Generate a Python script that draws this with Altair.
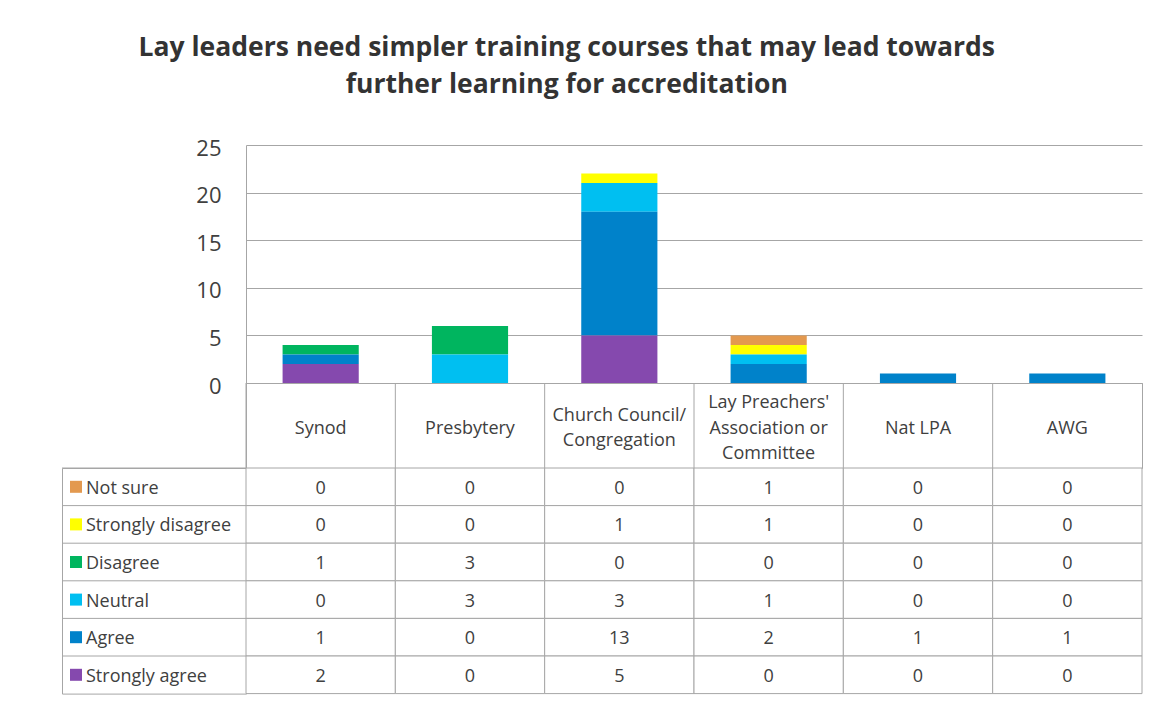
import altair as alt
import pandas as pd

# ---- data ----
categories = ["Synod", "Presbytery", "Church Council/\nCongregation",
              "Lay Preachers'\nAssociation or\nCommittee", "Nat LPA", "AWG"]
series = ["Not sure", "Strongly disagree", "Disagree", "Neutral", "Agree", "Strongly agree"]
not_sure = [0, 0, 0, 1, 0, 0]
strongly_disagree = [0, 0, 1, 1, 0, 0]
disagree = [1, 3, 0, 0, 0, 0]
neutral = [0, 3, 3, 1, 0, 0]
agree = [1, 0, 13, 2, 1, 1]
strongly_agree = [2, 0, 5, 0, 0, 0]
colors = ["#E3994F", "#FFFF00", "#00B55F", "#00BFF1", "#0082CA", "#8549AE"]
y_ticks = [0, 5, 10, 15, 20, 25]
title_lines = ["Lay leaders need simpler training courses that may lead towards",
               "further learning for accreditation"]

series_values = [not_sure, strongly_disagree, disagree, neutral, agree, strongly_agree]
rows = []
for s_i, s in enumerate(series):
    for c_i, c in enumerate(categories):
        rows.append({"cat": c, "series": s, "value": series_values[s_i][c_i],
                     "stack": len(series) - 1 - s_i})
df = pd.DataFrame(rows)
cat_df = pd.DataFrame({"cat": categories})
ser_df = pd.DataFrame({"series": series})
blank_df = pd.DataFrame({"t": [""]})

LINE_H = 25.5
hdr_rows = []
for c in categories:
    parts = c.split("\n")
    n = len(parts)
    for i, p in enumerate(parts):
        hdr_rows.append({"cat": c, "line": p, "pos": (n - 1) / 2 - i})
hdr_df = pd.DataFrame(hdr_rows)

FONT = "Open Sans"
TXT = "#404040"
GRID = "#A6A6A6"
W = 896
BAR_H = 238
HEAD_H = 85
TAB_H = 225.6
LAB_W = 184

color_enc = alt.Color("series:N", scale=alt.Scale(domain=series, range=colors), legend=None)

# ---- bar chart ----
bars = alt.Chart(df[df["value"] > 0]).mark_bar().encode(
    x=alt.X("cat:N", sort=categories,
            axis=alt.Axis(labels=False, ticks=False, title=None, domainColor=GRID, grid=False),
            scale=alt.Scale(paddingInner=0.49, paddingOuter=0.245)),
    y=alt.Y("value:Q", stack="zero", scale=alt.Scale(domain=[0, 25]),
            axis=alt.Axis(values=y_ticks, title=None, ticks=False, labelPadding=25,
                          labelFontSize=22, labelFont=FONT, labelColor=TXT, labelOffset=3,
                          gridColor=GRID, domainColor=GRID)),
    color=color_enc,
    order=alt.Order("stack:Q"),
).properties(width=W, height=BAR_H)


def blank(h):
    return alt.Chart(blank_df).mark_text().encode(text="t:N").properties(width=LAB_W, height=h)


# ---- header row ----
hscale = alt.Scale(paddingInner=0, paddingOuter=0)
half = HEAD_H / 2 / LINE_H
hdr_rules = alt.Chart(cat_df).mark_rule(color=GRID).encode(
    x=alt.X("cat:N", sort=categories, bandPosition=0, axis=None, scale=hscale))
hdr_text = alt.Chart(hdr_df).mark_text(font=FONT, fontSize=18, color=TXT, baseline="middle",
                                       dy=3).encode(
    x=alt.X("cat:N", sort=categories, axis=None, scale=hscale),
    y=alt.Y("pos:Q", axis=None, scale=alt.Scale(domain=[-half, half])),
    text="line:N")
header = alt.layer(hdr_rules, hdr_text).properties(
    width=W, height=HEAD_H, view=alt.ViewBackground(stroke=GRID))

# ---- table ----
tx = alt.X("cat:N", sort=categories, axis=None, scale=alt.Scale(paddingInner=0, paddingOuter=0))
ty = alt.Y("series:N", sort=series, axis=None, scale=alt.Scale(paddingInner=0, paddingOuter=0))
cells = alt.Chart(df).mark_rect(fill="white", stroke=GRID, strokeWidth=1).encode(x=tx, y=ty)
nums = alt.Chart(df).mark_text(font=FONT, fontSize=18, color=TXT, dy=2).encode(
    x=tx, y=ty, text="value:Q")
table = alt.layer(cells, nums).properties(width=W, height=TAB_H)

# ---- row labels with legend keys ----
lscale = alt.Scale(paddingInner=0, paddingOuter=0)
lab_rules = alt.Chart(ser_df).mark_rule(color=GRID).encode(
    y=alt.Y("series:N", sort=series, bandPosition=0, axis=None, scale=lscale))
keys = alt.Chart(ser_df).mark_square(size=144, opacity=1).encode(
    x=alt.value(14), y=alt.Y("series:N", sort=series, axis=None, scale=lscale), color=color_enc)
names = alt.Chart(ser_df).mark_text(align="left", font=FONT, fontSize=18, color=TXT, dy=2).encode(
    x=alt.value(24), y=alt.Y("series:N", sort=series, axis=None, scale=lscale), text="series:N")
labels = alt.layer(lab_rules, keys, names).properties(
    width=LAB_W, height=TAB_H, view=alt.ViewBackground(stroke=GRID))

chart = alt.concat(
    blank(BAR_H), bars,
    blank(HEAD_H), header,
    labels, table,
    columns=2, spacing=0, bounds="flush",
    title=alt.TitleParams(text=title_lines, font=FONT, fontSize=26.5, fontWeight="bold",
                          color="#333333", anchor="middle", lineHeight=37, dx=-35, offset=39),
    padding={"left": 53, "top": 26, "right": 5, "bottom": 5},
).resolve_scale(x="independent", y="independent", color="independent").configure_view(stroke=None)

chart.save("out.html", embed_options={"renderer": "svg", "actions": False})
